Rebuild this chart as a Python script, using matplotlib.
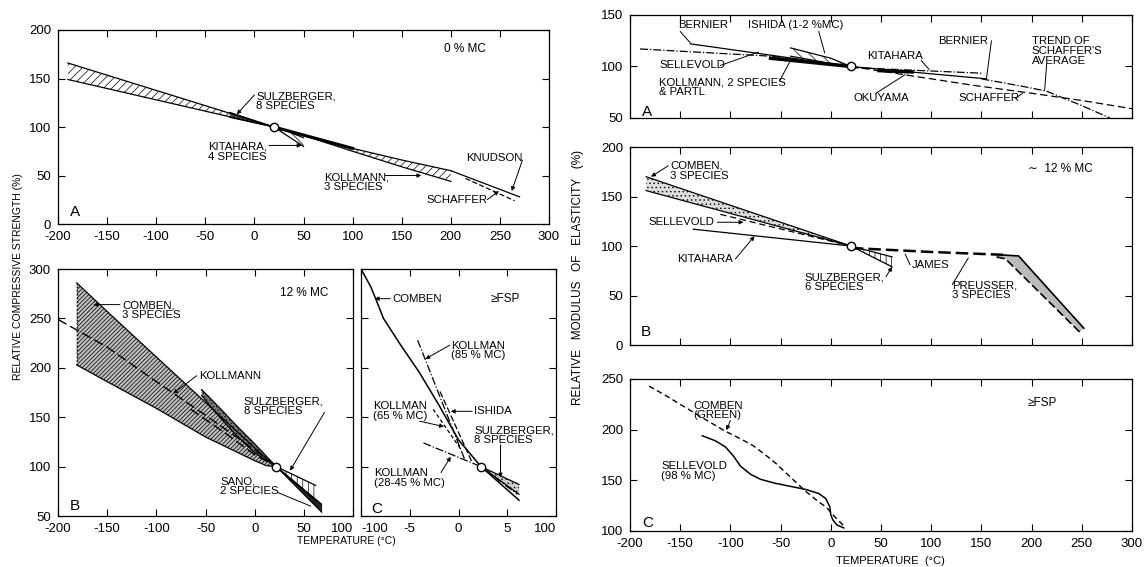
import numpy as np
import matplotlib
matplotlib.use('Agg')
import matplotlib.pyplot as plt

plt.rcParams['font.family'] = ['Liberation Sans', 'DejaVu Sans']
plt.rcParams['axes.unicode_minus'] = False
plt.rcParams['hatch.linewidth'] = 0.5

# reference point (100 % at room temperature)
ref_t, ref_v = 20, 100
ref_t_fsp = 2.3   # same point on the stretched scale of panel C

# ---- compressive strength, 0 % MC (left A) ----
la_band_x = [-190, 20]
la_band_hi = [166, 100]
la_band_lo = [149, 100]
la_sulz_x = [-25, 20]
la_sulz_hi = [115, 100]
la_sulz_lo = [110, 100]
la_kita_x = [20, 35, 50]
la_kita_hi = [100, 95, 89]
la_kita_lo = [100, 90, 80]
la_koll_x = [20, 60, 100, 150, 200]
la_koll_hi = [100, 89, 78, 66, 55]
la_koll_lo = [100, 88, 75, 59, 44]
la_knud_x = [200, 270]
la_knud_y = [55, 28]
la_schaf_x = [215, 265]
la_schaf_y = [47, 24]

# ---- compressive strength, 12 % MC (left B) ----
lb_comb_x = [-181, -150, -100, -50, 0, 12, 22]
lb_comb_hi = [286, 257, 211, 165, 119, 108, 100]
lb_comb_lo = [203, 186, 159, 130, 106, 101, 100]
lb_koll1_x = [-200, -150, -100, -50, 0, 22]
lb_koll1_y = [249, 221, 186, 152, 117, 100]
lb_koll2_x = [-65, -30, 0, 22]
lb_koll2_y = [158, 134, 112, 100]
lb_sulz_x = [-54, -40, -20, 0, 22]
lb_sulz_hi = [178, 164, 143, 123, 100]
lb_sulz_lo = [172, 155, 133, 114, 100]
lb_sano_x = [22, 62]
lb_sano_hi = [100, 81]
lb_sano_lo = [100, 66]
lb_sulz2_x = [22, 68]
lb_sulz2_hi = [100, 62]
lb_sulz2_lo = [100, 54]

# ---- compressive strength, above FSP (left C) ----
lc_comb_x = [-10, -9, -8.5, -7.7, -6, -4, -2, 0, 2.3, 6.2]
lc_comb_y = [300, 282, 270, 250, 224, 195, 162, 127, 100, 66]
lc_k85_x = [-4.2, 0.6]
lc_k85_y = [228, 108]
lc_ishida_x = [-1.9, 1.4]
lc_ishida_y = [176, 104]
lc_k65_x = [-2.6, 0.2]
lc_k65_y = [158, 118]
lc_k2845_x = [-3.6, 2.3, 6.0]
lc_k2845_y = [124, 100, 72]
lc_sulz_x = [2.3, 6.2]
lc_sulz_hi = [100, 82]
lc_sulz_lo = [100, 72]

# ---- modulus of elasticity, dry (right A) ----
ra_bern_x = [-140, 20, 155]
ra_bern_y = [122, 100, 88]
ra_sell_x = [-190, -60, 20]
ra_sell_y = [117, 110, 100]
ra_koll_x = [-60, 20]
ra_koll_y = [108, 100]
ra_ishida_x = [-40, 0, 20]
ra_ishida_hi = [118, 108, 100]
ra_ishida_lo = [110, 103, 100]
ra_kita_x = [20, 150]
ra_kita_y = [99, 93.5]
ra_kita_thick_x = [48, 81]
ra_kita_thick_y = [96, 94.7]
ra_schaf_x = [20, 80, 140, 200, 250, 300]
ra_schaf_y = [100, 91, 82, 74, 67, 59]
ra_trend_x = [150, 195, 215, 250, 278]
ra_trend_y = [88, 80, 76, 62, 50]

# ---- modulus of elasticity, 12 % MC (right B) ----
rb_comb_x = [-184, 20]
rb_comb_hi = [170, 100]
rb_comb_lo = [156, 100]
rb_sell_x = [-110, 20]
rb_sell_y = [132, 100]
rb_kita_x = [-137, 20]
rb_kita_y = [117, 100]
rb_sulz_x = [20, 61]
rb_sulz_hi = [100, 89]
rb_sulz_lo = [100, 79]
rb_james_x = [20, 100, 175]
rb_james_y = [98, 94, 91]
rb_preu_up_x = [170, 187, 252]
rb_preu_up_y = [91, 90, 17]
rb_preu_lo_x = [165, 174, 248]
rb_preu_lo_y = [89, 87, 13]

# ---- modulus of elasticity, above FSP (right C) ----
rc_comb_x = [-181, -165, -150, -130, -106, -90, -77, -65, -55, -40, -26, -15, -4, 4, 10, 14]
rc_comb_y = [243, 234, 225, 213, 199, 191, 184, 175, 167, 153, 140, 131, 123, 114, 108, 104]
rc_sell_x = [-128, -115, -105, -97, -90, -80, -70, -55, -40, -25, -12, -5, -1, 0, 2, 6, 13]
rc_sell_y = [194, 189, 183, 174, 164, 156, 151, 147, 144, 141, 137, 132, 124, 116, 111, 106, 103]

TXT = 8.2   # size of the labels inside the panels

fig = plt.figure(figsize=(11.44, 5.67), dpi=100)


def style(ax, xt, yt, xlab=True, ylab=True):
    ax.set_xticks(xt)
    ax.set_yticks(yt)
    ax.tick_params(direction='in', length=5, width=0.8, top=True, right=True,
                   labelsize=9.5, pad=5)
    if not xlab:
        ax.set_xticklabels([])
    if not ylab:
        ax.set_yticklabels([])
    for s in ax.spines.values():
        s.set_linewidth(0.9)


def band(ax, x, hi, lo, hatch=None, fc='none'):
    ax.fill_between(x, lo, hi, facecolor=fc, edgecolor='k', hatch=hatch, linewidth=0)
    ax.plot(x, hi, 'k-', lw=0.9)
    ax.plot(x, lo, 'k-', lw=0.9)


def note(ax, txt, pos, start=None, end=None, head=True, fs=TXT, ha='left'):
    ax.text(pos[0], pos[1], txt, ha=ha, va='center', fontsize=fs, linespacing=0.95)
    if end is not None:
        ax.annotate('', xy=end, xytext=start,
                    arrowprops=dict(arrowstyle='-|>' if head else '-', lw=0.7, color='k',
                                    shrinkA=0, shrinkB=0, mutation_scale=6))


def refpoint(ax, x=ref_t):
    ax.plot(x, ref_v, 'o', mfc='white', mec='k', ms=6, mew=1, zorder=6)


# LEFT A
axLA = fig.add_axes([0.0507, 0.6049, 0.4292, 0.3422])
axLA.set_xlim(-200, 300)
axLA.set_ylim(0, 200)
style(axLA, np.arange(-200, 301, 50), np.arange(0, 201, 50))
band(axLA, la_band_x, la_band_hi, la_band_lo, hatch='////')
band(axLA, la_sulz_x, la_sulz_hi, la_sulz_lo, hatch='//////', fc='#555555')
band(axLA, la_kita_x, la_kita_hi, la_kita_lo, hatch='\\\\\\\\')
band(axLA, la_koll_x, la_koll_hi, la_koll_lo, hatch='////')
axLA.plot(la_koll_x[:3], la_koll_hi[:3], 'k-', lw=2.2)
axLA.plot(la_knud_x, la_knud_y, 'k-', lw=0.9)
axLA.plot(la_schaf_x, la_schaf_y, 'k--', lw=0.9, dashes=(4, 2))
refpoint(axLA)
note(axLA, '0 % MC', (193, 180), fs=8.5)
note(axLA, 'SULZBERGER,\n8 SPECIES', (2, 127), (0, 133), (-18, 113))
note(axLA, 'KITAHARA,\n4 SPECIES', (-47, 74.5), (15, 81), (48, 81))
note(axLA, 'KOLLMANN,\n3 SPECIES', (71, 43), (133, 50), (170, 50))
note(axLA, 'KNUDSON', (216, 68), (273, 66), (262, 34))
note(axLA, 'SCHAFFER', (175, 25), (237, 25), (249, 34))
note(axLA, 'A', (-188, 12), fs=11)

# LEFT B
axLB = fig.add_axes([0.0507, 0.0899, 0.2579, 0.4356])
axLB.set_xlim(-200, 100)
axLB.set_ylim(50, 300)
style(axLB, np.arange(-200, 101, 50), np.arange(50, 301, 50))
axLB.get_xticklabels()[-1].set_ha('right')
band(axLB, lb_comb_x, lb_comb_hi, lb_comb_lo, hatch='////////', fc='#bdbdbd')
axLB.plot([lb_comb_x[0]] * 2, [lb_comb_lo[0], lb_comb_hi[0]], 'k:', lw=1)
axLB.plot(lb_koll1_x, lb_koll1_y, 'k--', lw=1, dashes=(7, 3))
axLB.plot(lb_koll2_x, lb_koll2_y, 'k--', lw=1, dashes=(7, 3))
band(axLB, lb_sulz_x, lb_sulz_hi, lb_sulz_lo, hatch='.....', fc='#777777')
band(axLB, lb_sano_x, lb_sano_hi, lb_sano_lo, hatch='|||')
band(axLB, lb_sulz2_x, lb_sulz2_hi, lb_sulz2_lo, fc='#222222')
refpoint(axLB, 22)
note(axLB, '12 % MC', (26, 276), fs=8.5)
note(axLB, 'COMBEN,\n3 SPECIES', (-135, 258), (-137, 264), (-164, 264))
note(axLB, 'KOLLMANN', (-57, 192), (-59, 192), (-83, 174))
note(axLB, 'SULZBERGER,\n8 SPECIES', (-11, 161), (71, 155), (36, 96))
note(axLB, 'SANO,\n2 SPECIES', (-35, 80), (23, 74), (57, 60), head=False)
note(axLB, 'B', (-188, 60), fs=11)

# LEFT C
axLC = fig.add_axes([0.3156, 0.0899, 0.1705, 0.4356])
axLC.set_xlim(-10, 10)
axLC.set_ylim(50, 300)
style(axLC, [-10, -5, 0, 5, 10], np.arange(50, 301, 50), ylab=False)
axLC.set_xticklabels(['-100', '-5', '0', '5', '100'])
axLC.get_xticklabels()[0].set_ha('left')
axLC.get_xticklabels()[-1].set_ha('right')
axLC.plot(lc_comb_x, lc_comb_y, 'k-', lw=1.1)
axLC.plot(lc_k85_x, lc_k85_y, 'k-.', lw=0.9)
axLC.plot(lc_ishida_x, lc_ishida_y, 'k--', lw=0.9, dashes=(5, 2))
axLC.plot(lc_k65_x, lc_k65_y, 'k--', lw=0.9, dashes=(3, 2))
axLC.plot(lc_k2845_x, lc_k2845_y, 'k-.', lw=0.9)
band(axLC, lc_sulz_x, lc_sulz_hi, lc_sulz_lo, hatch='....', fc='#cccccc')
refpoint(axLC, ref_t_fsp)
note(axLC, 'COMBEN', (-6.8, 270), (-7.0, 270), (-8.6, 270))
note(axLC, '≥FSP', (3.3, 270), fs=8.5)
note(axLC, 'KOLLMAN\n(85 % MC)', (-0.8, 217.5), (-0.9, 223), (-3.4, 209))
note(axLC, 'ISHIDA', (1.6, 156), (1.4, 156), (-0.8, 156))
note(axLC, 'KOLLMAN\n(65 % MC)', (-8.8, 156.6), (-4.0, 146), (-1.5, 140.5))
note(axLC, 'SULZBERGER,\n8 SPECIES', (1.6, 132), (4.3, 122), (4.3, 89))
note(axLC, 'KOLLMAN\n(28-45 % MC)', (-8.7, 88.5), (-1.8, 94), (-0.8, 110))
note(axLC, 'C', (-9, 57), fs=11)

# RIGHT A
axRA = fig.add_axes([0.5507, 0.7919, 0.4388, 0.1817])
axRA.set_xlim(-200, 300)
axRA.set_ylim(50, 150)
style(axRA, np.arange(-200, 301, 50), [50, 100, 150], xlab=False)
axRA.plot(ra_bern_x, ra_bern_y, 'k-', lw=0.9)
axRA.plot(ra_sell_x, ra_sell_y, 'k-.', lw=0.9)
axRA.plot(ra_koll_x, ra_koll_y, 'k-', lw=2.5)
band(axRA, ra_ishida_x, ra_ishida_hi, ra_ishida_lo, hatch='\\\\\\')
axRA.plot(ra_kita_x, ra_kita_y, 'k-.', lw=0.9)
axRA.plot(ra_kita_thick_x, ra_kita_thick_y, 'k-', lw=2.5)
axRA.plot(ra_schaf_x, ra_schaf_y, 'k--', lw=0.9, dashes=(6, 3))
axRA.plot(ra_trend_x, ra_trend_y, 'k-.', lw=0.9)
refpoint(axRA)
note(axRA, 'BERNIER', (-152, 140), (-150, 134), (-140, 123), head=False)
note(axRA, 'ISHIDA (1-2 %MC)', (-82, 140), (-12, 134), (-6, 113), head=False)
note(axRA, 'SELLEVOLD', (-171, 101), (-110, 101), (-72, 114), head=False)
note(axRA, 'KOLLMANN, 2 SPECIES\n& PARTL', (-171, 80), (-51, 86), (-39, 108), head=False)
note(axRA, 'KITAHARA', (36, 110), (90, 106), (98, 97), head=False)
note(axRA, 'BERNIER', (107, 125), (160, 125), (155, 88), head=False)
note(axRA, 'TREND OF\nSCHAFFER\'S\nAVERAGE', (200, 115), (215, 102), (213, 77), head=False)
note(axRA, 'OKUYAMA', (23, 69), (45, 74), (74, 92), head=False)
note(axRA, 'SCHAFFER', (127, 69), (184, 69), (191, 74), head=False)
note(axRA, 'A', (-188, 56), fs=11)

# RIGHT B
axRB = fig.add_axes([0.5507, 0.3915, 0.4388, 0.3492])
axRB.set_xlim(-200, 300)
axRB.set_ylim(0, 200)
style(axRB, np.arange(-200, 301, 50), np.arange(0, 201, 50), xlab=False)
band(axRB, rb_comb_x, rb_comb_hi, rb_comb_lo, hatch='....', fc='#dddddd')
axRB.plot(rb_sell_x, rb_sell_y, 'k--', lw=0.9, dashes=(5, 3))
axRB.plot(rb_kita_x, rb_kita_y, 'k-', lw=0.9)
band(axRB, rb_sulz_x, rb_sulz_hi, rb_sulz_lo, hatch='|||')
axRB.plot(rb_james_x, rb_james_y, 'k--', lw=1.8, dashes=(5, 2))
axRB.fill(rb_preu_up_x + rb_preu_lo_x[::-1], rb_preu_up_y + rb_preu_lo_y[::-1],
          facecolor='#bbbbbb', edgecolor='none', hatch='....')
axRB.plot(rb_preu_up_x, rb_preu_up_y, 'k-', lw=1.2)
axRB.plot(rb_preu_lo_x, rb_preu_lo_y, 'k--', lw=1.2, dashes=(5, 2))
refpoint(axRB)
note(axRB, '∼  12 % MC', (196, 178), fs=8.5)
note(axRB, 'COMBEN,\n3 SPECIES', (-160, 176), (-162, 181), (-179, 170))
note(axRB, 'SELLEVOLD', (-182, 124), (-113, 124), (-87, 124))
note(axRB, 'KITAHARA', (-153, 87), (-95, 87), (-76, 110))
note(axRB, 'SULZBERGER,\n6 SPECIES', (-26, 63), (55, 69), (61, 79))
note(axRB, 'JAMES', (81, 81), (79, 81), (74, 92), head=False)
note(axRB, 'PREUSSER,\n3 SPECIES', (121, 55), (121, 61), (137, 88), head=False)
note(axRB, 'B', (-189, 13), fs=11)

# RIGHT C
axRC = fig.add_axes([0.5507, 0.0635, 0.4388, 0.2681])
axRC.set_xlim(-200, 300)
axRC.set_ylim(100, 250)
style(axRC, np.arange(-200, 301, 50), [100, 150, 200, 250])
axRC.plot(rc_comb_x, rc_comb_y, 'k--', lw=1, dashes=(4, 2.5))
axRC.plot(rc_sell_x, rc_sell_y, 'k-', lw=1.1)
note(axRC, '≥FSP', (196, 226), fs=8.5)
note(axRC, 'COMBEN\n(GREEN)', (-137, 219), (-100, 209), (-104, 199.5))
note(axRC, 'SELLEVOLD\n(98 % MC)', (-169, 159))
note(axRC, 'C', (-188, 108), fs=11)

# axis titles
fig.text(0.016, 0.513, 'RELATIVE COMPRESSIVE STRENGTH (%)', rotation=90,
         ha='center', va='center', fontsize=7.5)
fig.text(0.303, 0.046, 'TEMPERATURE (°C)', ha='center', va='center', fontsize=7.5)
fig.text(0.505, 0.51, 'RELATIVE   MODULUS   OF   ELASTICITY   (%)', rotation=90,
         ha='center', va='center', fontsize=8.5)
fig.text(0.778, 0.011, 'TEMPERATURE  (°C)', ha='center', va='center', fontsize=8)

fig.savefig('out.png', dpi=100, facecolor='white')
